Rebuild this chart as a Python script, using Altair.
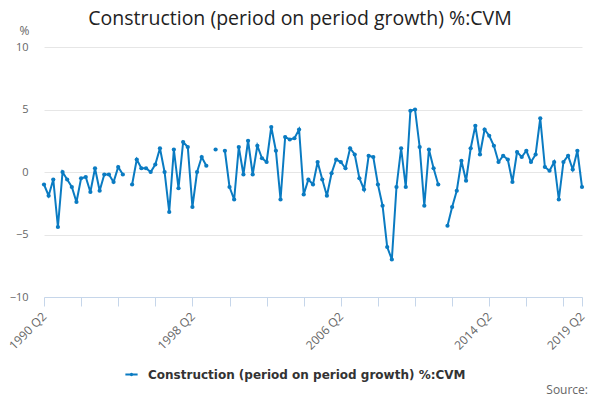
import pandas as pd
import altair as alt

# Quarterly growth, 1990 Q2 to 2019 Q2 (None = no value published)
growth = [
    -1.0, -1.9, -0.6, -4.4, 0.0, -0.6, -1.2, -2.4, -0.5, -0.4,
    -1.6, 0.3, -1.5, -0.2, -0.2, -0.8, 0.4, -0.2, None, -1.0,
    1.0, 0.3, 0.3, 0.0, 0.6, 1.9, 0.0, -3.2, 1.8, -1.3,
    2.4, 2.0, -2.8, 0.0, 1.2, 0.5, None, 1.8, None, 1.7,
    -1.2, -2.2, 2.0, -0.2, 2.5, -0.2, 2.1, 1.1, 0.8, 3.6,
    1.7, -2.2, 2.8, 2.6, 2.7, 3.4, -1.8, -0.6, -1.0, 0.8,
    -0.6, -1.9, -0.1, 1.0, 0.8, 0.3, 1.9, 1.4, -0.5, -1.4,
    1.3, 1.2, -1.0, -2.7, -6.0, -7.0, -1.2, 1.9, -1.2, 4.9,
    5.0, 2.0, -2.7, 1.8, 0.3, -1.0, None, -4.3, -2.8, -1.5,
    0.9, -0.7, 1.9, 3.7, 1.4, 3.4, 2.9, 2.1, 0.8, 1.3,
    1.0, -0.8, 1.6, 1.2, 1.7, 0.8, 1.4, 4.3, 0.4, 0.1,
    0.8, -2.2, 0.8, 1.3, 0.2, 1.7, -1.2,
]

quarters = [f"{1990 + (i + 1) // 4} Q{(i + 1) % 4 + 1}" for i in range(len(growth))]

series_name = "Construction (period on period growth) %:CVM"
tick_idx = [0, 8, 16, 24, 32, 40, 48, 56, 64, 72, 80, 88, 96, 104, 112, 116]
label_idx = [0, 32, 64, 96, 116]

df = pd.DataFrame({
    "idx": range(len(growth)),
    "quarter": quarters,
    "value": growth,
    "series": series_name,
})

label_expr = " : ".join(
    f"datum.value == {i} ? '{quarters[i]}'" for i in label_idx
) + " : ''"

blue = "#0a7bc2"

# legend symbol: a short line with a dot in the middle
line_dot = "M-1,0H1M-0.12,0A0.12,0.12 0 1,0 0.12,0A0.12,0.12 0 1,0 -0.12,0"

line = alt.Chart(df).mark_line(
    point=alt.OverlayMarkDef(filled=True, size=18),
    strokeWidth=2,
).encode(
    x=alt.X(
        "idx:Q",
        scale=alt.Scale(domain=[0, len(growth) - 1], nice=False, zero=False),
        axis=alt.Axis(
            values=tick_idx,
            labelExpr=label_expr,
            labelAngle=-45,
            labelAlign="right",
            labelBaseline="middle",
            labelFontSize=12,
            labelColor="#666666",
            labelFont="Open Sans",
            labelPadding=8,
            labelOverlap=False,
            labelBound=False,
            labelFlush=False,
            grid=False,
            domainColor="#c6d6ea",
            tickColor="#c6d6ea",
            tickSize=9,
            title=None,
        ),
    ),
    y=alt.Y(
        "value:Q",
        scale=alt.Scale(domain=[-10, 10], nice=False),
        axis=alt.Axis(
            values=[-10, -5, 0, 5, 10],
            domain=False,
            ticks=False,
            gridColor="#e6e6e6",
            labelFontSize=11,
            labelColor="#666666",
            labelFont="Open Sans",
            labelPadding=16,
            title="%",
            titleAngle=0,
            titleX=-20,
            titleY=-17,
            titleAlign="center",
            titleBaseline="middle",
            titleFont="Open Sans",
            titleFontSize=12,
            titleFontWeight="normal",
            titleColor="#666666",
        ),
    ),
    color=alt.Color(
        "series:N",
        scale=alt.Scale(range=[blue]),
        legend=alt.Legend(
            title=None,
            orient="none",
            legendX=80,
            legendY=320,
            symbolType=line_dot,
            symbolStrokeWidth=2,
            symbolSize=150,
            labelOffset=9,
            labelFont="DejaVu Sans",
            labelFontSize=12,
            labelFontWeight="bold",
            labelColor="#333333",
            labelLimit=500,
        ),
    ),
    tooltip=["quarter:N", "value:Q"],
)

source = alt.Chart(pd.DataFrame({"text": ["Source:"]})).mark_text(
    align="right", baseline="middle", fontSize=12, font="Open Sans", color="#666666"
).encode(x=alt.value(544), y=alt.value(343), text="text:N")

chart = alt.layer(line, source).properties(
    width=538,
    height=250,
    autosize=alt.AutoSizeParams(type="none"),
    padding={"left": 36, "top": 39, "right": 10, "bottom": 100},
    title=alt.TitleParams(
        text="Construction (period on period growth) %:CVM",
        font="Open Sans",
        fontSize=19.5,
        fontWeight="normal",
        color="#222222",
        anchor="middle",
        dx=-13,
        offset=-5,
    ),
).configure_view(stroke=None)

chart.save("out.html", embed_options={"renderer": "svg", "actions": False})
